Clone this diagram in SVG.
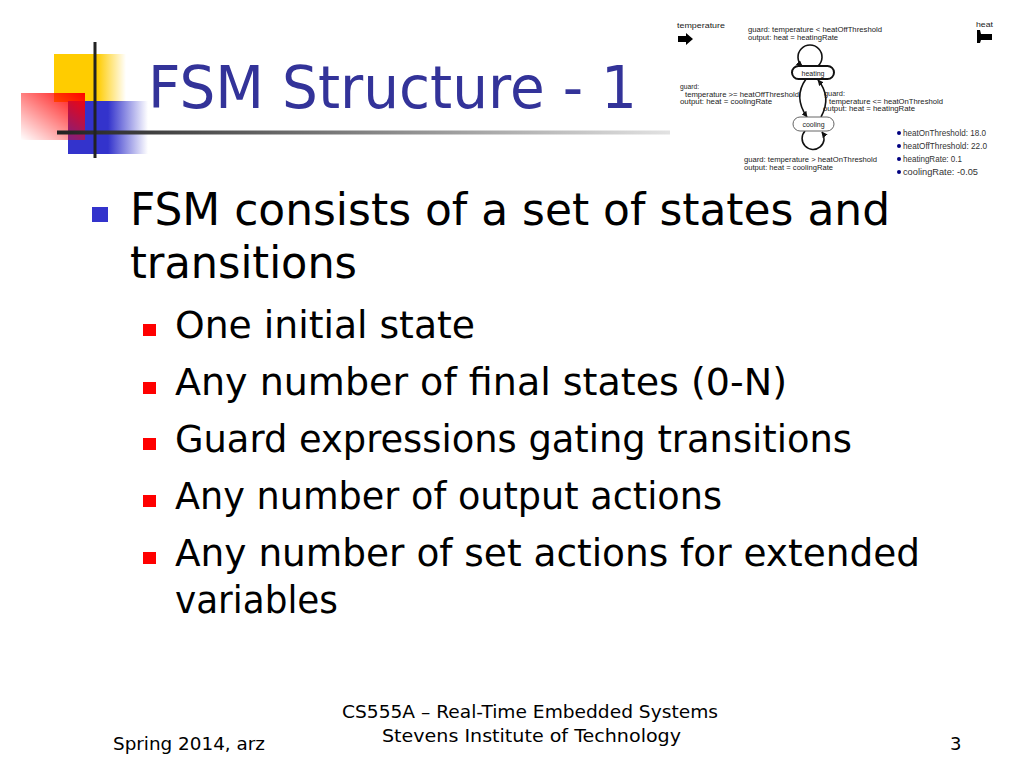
<svg xmlns="http://www.w3.org/2000/svg" width="1024" height="768" viewBox="0 0 1024 768">
<style>
.main{font-family:"Comic Sans MS","DejaVu Sans",sans-serif;fill:#000}
.l1{font-size:44px}
.l2{font-size:37px}
.title{font-family:"Comic Sans MS","DejaVu Sans",sans-serif;font-size:58px;fill:#333399}
.foot{font-family:"Comic Sans MS","DejaVu Sans",sans-serif;font-size:18px;fill:#000}
.sm{font-family:"Liberation Sans",Arial,sans-serif;font-size:7px;fill:#222}
.pm{font-family:"Liberation Sans",Arial,sans-serif;font-size:9px;fill:#333}
.edge{fill:none;stroke:#111;stroke-width:1.6}
</style>
<defs>
<linearGradient id="gY" x1="0" y1="0" x2="1" y2="0"><stop offset="0" stop-color="#FFCC00"/><stop offset="0.6" stop-color="#FFCC00"/><stop offset="1" stop-color="#FFCC00" stop-opacity="0"/></linearGradient>
<linearGradient id="gB" x1="0" y1="0" x2="1" y2="0"><stop offset="0" stop-color="#3333CC"/><stop offset="0.5" stop-color="#3333CC"/><stop offset="1" stop-color="#3333CC" stop-opacity="0"/></linearGradient>
<linearGradient id="gR" x1="1" y1="0" x2="0" y2="1"><stop offset="0" stop-color="#FF0000"/><stop offset="1" stop-color="#FF0000" stop-opacity="0"/></linearGradient>
<linearGradient id="gL" x1="0" y1="0" x2="1" y2="0"><stop offset="0" stop-color="#222"/><stop offset="1" stop-color="#e2e2e2"/></linearGradient>
<marker id="ah" viewBox="0 0 10 10" refX="9" refY="5" markerWidth="6" markerHeight="6" markerUnits="userSpaceOnUse" orient="auto"><path d="M0,0 L10,5 L0,10 z" fill="#111"/></marker>
</defs>
<rect width="1024" height="768" fill="#fff"/>

<g id="logo">
<rect x="54" y="54" width="72" height="48" fill="url(#gY)"/>
<rect x="68" y="101" width="80" height="53" fill="url(#gB)"/>
<rect x="21" y="93" width="64" height="47" fill="url(#gR)"/>
<rect x="57" y="130.5" width="613" height="4" fill="url(#gL)"/>
<rect x="93.5" y="42" width="3" height="116" fill="#222"/>
</g>

<g id="title"><text class="title" x="148" y="108" textLength="489" lengthAdjust="spacingAndGlyphs">FSM Structure - 1</text></g>

<g id="bullets">
<rect x="92" y="207" width="16" height="15" fill="#3333CC"/>
<text class="main l1" x="130" y="225" textLength="760" lengthAdjust="spacingAndGlyphs">FSM consists of a set of states and</text>
<text class="main l1" x="130" y="278" textLength="227" lengthAdjust="spacingAndGlyphs">transitions</text>
<rect x="143" y="324" width="13" height="12" fill="#FF0000"/>
<text class="main l2" x="175" y="338" textLength="300" lengthAdjust="spacingAndGlyphs">One initial state</text>
<rect x="143" y="382" width="13" height="12" fill="#FF0000"/>
<text class="main l2" x="175" y="395" textLength="612" lengthAdjust="spacingAndGlyphs">Any number of final states (0-N)</text>
<rect x="143" y="438" width="13" height="12" fill="#FF0000"/>
<text class="main l2" x="175" y="452" textLength="677" lengthAdjust="spacingAndGlyphs">Guard expressions gating transitions</text>
<rect x="143" y="495" width="13" height="12" fill="#FF0000"/>
<text class="main l2" x="175" y="509" textLength="547" lengthAdjust="spacingAndGlyphs">Any number of output actions</text>
<rect x="143" y="552" width="13" height="12" fill="#FF0000"/>
<text class="main l2" x="175" y="566" textLength="745" lengthAdjust="spacingAndGlyphs">Any number of set actions for extended</text>
<text class="main l2" x="175" y="613" textLength="163" lengthAdjust="spacingAndGlyphs">variables</text>
</g>

<g id="fsm-ports">
<text class="sm" x="677" y="28" textLength="48" lengthAdjust="spacingAndGlyphs">temperature</text>
<polygon points="678,36 686,36 686,33 693,39 686,45 686,42 678,42" fill="#000"/>
<text class="sm" x="976" y="27" textLength="17" lengthAdjust="spacingAndGlyphs">heat</text>
<polygon points="977,30 980,30 981,34 992,34 992,40 981,40 980,43 977,43" fill="#000"/>
</g>

<g id="connectors">
<path class="edge" d="M818,66 A12,12 0 1 0 802,66" marker-end="url(#ah)"/>
<path class="edge" d="M806,79 Q793,97 807,117" marker-end="url(#ah)"/>
<path class="edge" d="M821,117 Q832,97 818,80" marker-end="url(#ah)"/>
<path class="edge" d="M805,131 A11,11 0 1 0 822,132" marker-end="url(#ah)"/>
</g>

<g id="state-heating">
<rect x="792" y="66" width="42" height="13" rx="6.5" fill="#fff" stroke="#111" stroke-width="2"/>
<text class="sm" x="813" y="75.5" text-anchor="middle" font-size="8">heating</text>
</g>
<g id="state-cooling">
<rect x="793" y="117" width="41" height="14" rx="7" fill="#fff" stroke="#666" stroke-width="1"/>
<text class="sm" x="813.5" y="127" text-anchor="middle" font-size="8.5">cooling</text>
</g>

<g id="labels">
<text class="sm" x="748" y="32" textLength="134" lengthAdjust="spacingAndGlyphs">guard: temperature &lt; heatOffThreshold</text>
<text class="sm" x="748" y="40" textLength="90" lengthAdjust="spacingAndGlyphs">output: heat = heatingRate</text>
<text class="sm" x="680" y="89" textLength="19" lengthAdjust="spacingAndGlyphs">guard:</text>
<text class="sm" x="685" y="97" textLength="114" lengthAdjust="spacingAndGlyphs">temperature &gt;= heatOffThreshold</text>
<text class="sm" x="680" y="104" textLength="92" lengthAdjust="spacingAndGlyphs">output: heat = coolingRate</text>
<text class="sm" x="824" y="96" textLength="21" lengthAdjust="spacingAndGlyphs">guard:</text>
<text class="sm" x="829" y="104" textLength="114" lengthAdjust="spacingAndGlyphs">temperature &lt;= heatOnThreshold</text>
<text class="sm" x="823" y="111" textLength="92" lengthAdjust="spacingAndGlyphs">output: heat = heatingRate</text>
<text class="sm" x="744" y="162" textLength="133" lengthAdjust="spacingAndGlyphs">guard: temperature &gt; heatOnThreshold</text>
<text class="sm" x="744" y="170" textLength="89" lengthAdjust="spacingAndGlyphs">output: heat = coolingRate</text>
</g>

<g id="params">
<circle cx="899" cy="133" r="2" fill="#000080"/>
<text class="pm" x="903" y="136" textLength="83" lengthAdjust="spacingAndGlyphs">heatOnThreshold: 18.0</text>
<circle cx="899" cy="146" r="2" fill="#000080"/>
<text class="pm" x="903" y="149" textLength="84" lengthAdjust="spacingAndGlyphs">heatOffThreshold: 22.0</text>
<circle cx="899" cy="159" r="2" fill="#000080"/>
<text class="pm" x="903" y="162" textLength="59" lengthAdjust="spacingAndGlyphs">heatingRate: 0.1</text>
<circle cx="899" cy="172" r="2" fill="#000080"/>
<text class="pm" x="903" y="175" textLength="75" lengthAdjust="spacingAndGlyphs">coolingRate: -0.05</text>
</g>

<g id="footer">
<text class="foot" x="113" y="750" textLength="152" lengthAdjust="spacingAndGlyphs">Spring 2014, arz</text>
<text class="foot" x="342" y="718" textLength="376" lengthAdjust="spacingAndGlyphs">CS555A – Real-Time Embedded Systems</text>
<text class="foot" x="382" y="742" textLength="299" lengthAdjust="spacingAndGlyphs">Stevens Institute of Technology</text>
<text class="foot" x="950" y="750">3</text>
</g>
</svg>
